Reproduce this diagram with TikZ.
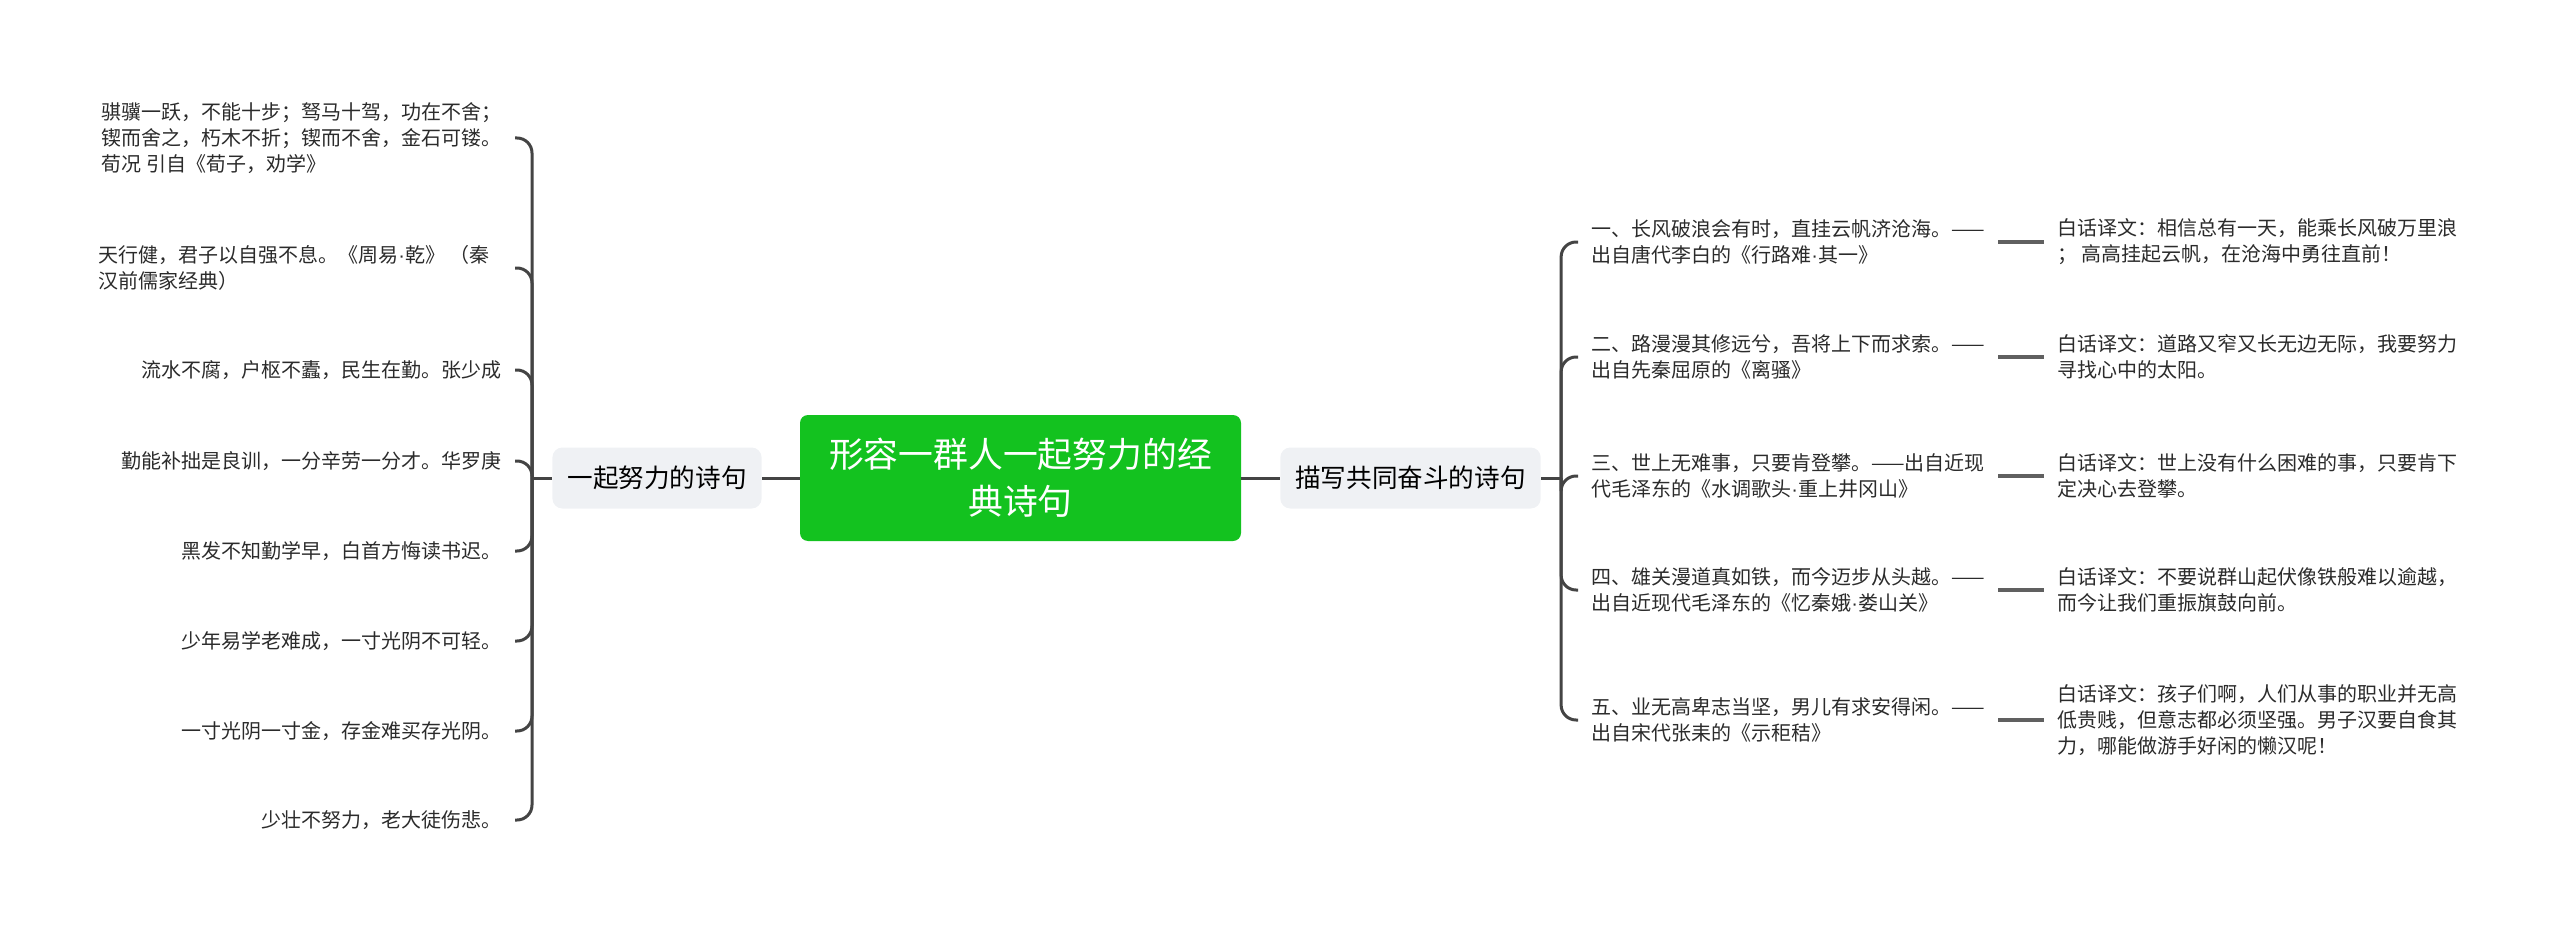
\documentclass[tikz,border=0pt]{standalone}
\usepackage{fontspec}
\setmainfont{Noto Sans CJK SC}
\newfontfamily\latinfont{Liberation Sans}
\newcommand{\middot}{{\latinfont ·}}
\usetikzlibrary{positioning, calc}
\definecolor{rootgreen}{HTML}{13C21F}
\definecolor{topicgray}{HTML}{EFF1F4}
\definecolor{linkgray}{HTML}{444444}
\definecolor{textdark}{HTML}{2B2B2B}
\tikzset{
    central/.style={
        rectangle, rounded corners=4pt, minimum width=220.5pt, minimum height=63pt,
        align=center, fill=rootgreen, text=white, font=\fontsize{17.4}{23.5}\selectfont
    },
    topic/.style={
        rectangle, rounded corners=5pt, minimum height=30.5pt, inner xsep=7.5pt,
        align=center, fill=topicgray, text=black, font=\fontsize{12.8}{15}\selectfont
    },
    leaf/.style={
        rectangle, inner xsep=6.5pt, inner ysep=1pt,
        align=left, text=textdark, font=\fontsize{10}{13}\selectfont
    },
    leaf_left/.style={leaf, anchor=east},
    leaf_right/.style={leaf, anchor=west},
    connector/.style={draw=linkgray, line width=1.5pt},
    bracket/.style={connector, rounded corners=7.5pt},
    connector_short/.style={draw=linkgray!85, line width=2pt}
}
\begin{document}
\begin{tikzpicture}[x=0.5pt, y=-0.5pt]
    \useasboundingbox (0,0) rectangle (2560,931);
    \node[central] (root) at (1020.5, 478) {形容一群人一起努力的经\\典诗句};
    \node[topic] (left) at (657, 478) {一起努力的诗句};
    \node[topic] (right) at (1410.5, 478) {描写共同奋斗的诗句};

    % Rama izquierda
    \node[leaf_left] (l1) at (515, 138) {骐骥一跃，不能十步；驽马十驾，功在不舍；\\锲而舍之，朽木不折；锲而不舍，金石可镂。\\荀况 引自《荀子，劝学》};
    \node[leaf_right] (l2) at (85, 268) {天行健，君子以自强不息。《周易\middot 乾》 （秦\\汉前儒家经典）};
    \node[leaf_left] (l3) at (515, 370) {流水不腐，户枢不蠹，民生在勤。张少成};
    \node[leaf_left] (l4) at (515, 461) {勤能补拙是良训，一分辛劳一分才。华罗庚};
    \node[leaf_left] (l5) at (515, 551) {黑发不知勤学早，白首方悔读书迟。};
    \node[leaf_left] (l6) at (515, 641) {少年易学老难成，一寸光阴不可轻。};
    \node[leaf_left] (l7) at (515, 731) {一寸光阴一寸金，存金难买存光阴。};
    \node[leaf_left] (l8) at (515, 820) {少壮不努力，老大徒伤悲。};

    % Rama derecha
    \node[leaf_right] (b1) at (1578, 242) {一、长风破浪会有时，直挂云帆济沧海。——\\出自唐代李白的《行路难\middot 其一》};
    \node[leaf_right] (b2) at (1578, 357) {二、路漫漫其修远兮，吾将上下而求索。——\\出自先秦屈原的《离骚》};
    \node[leaf_right] (b3) at (1578, 476) {三、世上无难事，只要肯登攀。——出自近现\\代毛泽东的《水调歌头\middot 重上井冈山》};
    \node[leaf_right] (b4) at (1578, 590) {四、雄关漫道真如铁，而今迈步从头越。——\\出自近现代毛泽东的《忆秦娥\middot 娄山关》};
    \node[leaf_right] (b5) at (1578, 720) {五、业无高卑志当坚，男儿有求安得闲。——\\出自宋代张耒的《示秬秸》};

    % Traducciones
    \node[leaf_right] (t1) at (2044, 242) {白话译文：相信总有一天，能乘长风破万里浪\\； 高高挂起云帆，在沧海中勇往直前！};
    \node[leaf_right] (t2) at (2044, 357) {白话译文：道路又窄又长无边无际，我要努力\\寻找心中的太阳。};
    \node[leaf_right] (t3) at (2044, 476) {白话译文：世上没有什么困难的事，只要肯下\\定决心去登攀。};
    \node[leaf_right] (t4) at (2044, 590) {白话译文：不要说群山起伏像铁般难以逾越，\\而今让我们重振旗鼓向前。};
    \node[leaf_right] (t5) at (2044, 720) {白话译文：孩子们啊，人们从事的职业并无高\\低贵贱，但意志都必须坚强。男子汉要自食其\\力，哪能做游手好闲的懒汉呢！};

    \coordinate (lhub) at ($(left.west)+(-20,0)$);
    \coordinate (rhub) at ($(right.east)+(20,0)$);

    \draw[connector] (root.west) -- (left.east);
    \draw[connector] (root.east) -- (right.west);
    \draw[connector] (left.west) -- (lhub);
    \draw[connector] (right.east) -- (rhub);

    \draw[bracket] (lhub) |- (l1.east);
    \draw[bracket] (lhub) |- (l2.east -| l1.east);
    \draw[bracket] (lhub) |- (l3.east);
    \draw[bracket] (lhub) |- (l4.east);
    \draw[bracket] (lhub) |- (l5.east);
    \draw[bracket] (lhub) |- (l6.east);
    \draw[bracket] (lhub) |- (l7.east);
    \draw[bracket] (lhub) |- (l8.east);

    \draw[bracket] (rhub) |- (b1.west);
    \draw[bracket] (rhub) |- (b2.west);
    \draw[bracket] (rhub) |- (b3.west);
    \draw[bracket] (rhub) |- (b4.west);
    \draw[bracket] (rhub) |- (b5.west);

    \draw[connector_short] (b1.east) -- (t1.west);
    \draw[connector_short] (b2.east) -- (t2.west);
    \draw[connector_short] (b3.east) -- (t3.west);
    \draw[connector_short] (b4.east) -- (t4.west);
    \draw[connector_short] (b5.east) -- (t5.west);
\end{tikzpicture}
\end{document}
